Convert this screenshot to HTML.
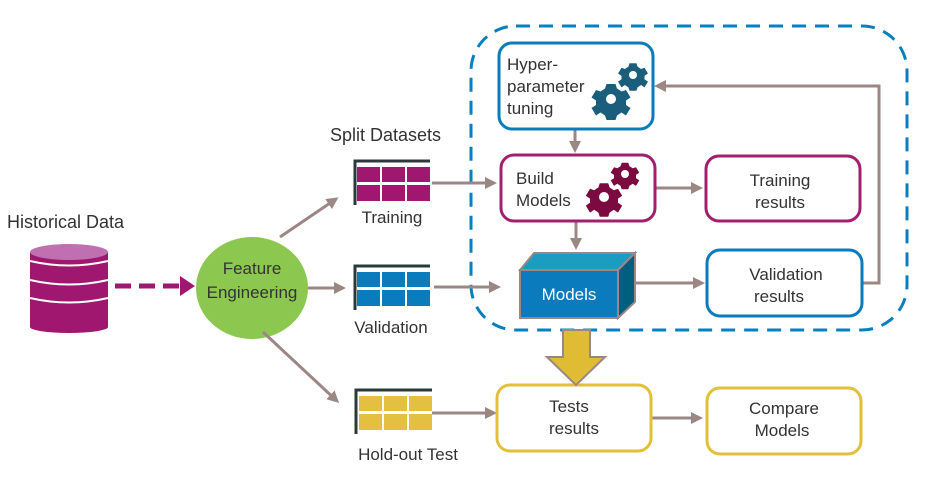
<!DOCTYPE html>
<html><head><meta charset="utf-8"><style>body{margin:0;background:#fff}svg{display:block}text{font-family:"Liberation Sans",Arial,sans-serif;fill:#333}</style></head><body>
<svg width="928" height="485" viewBox="0 0 928 485" xmlns="http://www.w3.org/2000/svg">
<defs>
<marker id="a" markerWidth="4" markerHeight="4" refX="3" refY="2" orient="auto" markerUnits="strokeWidth"><path d="M0,0 L4,2 L0,4 Z" fill="#9b8784"/></marker>
<marker id="p" markerWidth="3" markerHeight="4" refX="2" refY="2" orient="auto" markerUnits="strokeWidth"><path d="M0,0 L3,2 L0,4 Z" fill="#a0176f"/></marker>
<g id="gear"><path d="M-3,-10 L3,-10 L4,-7 L7,-5 L10,-6 L13,-1 L10,1 L10,4 L13,6 L10,11 L7,9 L4,11 L3,14 L-3,14 L-4,11 L-7,9 L-10,11 L-13,6 L-10,4 L-10,1 L-13,-1 L-10,-6 L-7,-5 L-4,-7 Z" transform="translate(0,-2)"/></g>
</defs>
<rect x="471" y="26" width="436" height="304" rx="45" fill="none" stroke="#0a7fc0" stroke-width="3" stroke-dasharray="14,9"/>
<text x="7" y="228" font-size="18">Historical Data</text>
<g fill="#a0176f">
<rect x="30" y="252" width="78" height="75" />
<ellipse cx="69" cy="327" rx="39" ry="6"/>
</g>
<ellipse cx="69" cy="252" rx="39" ry="8" fill="#c070b0"/>
<g stroke="#fff" stroke-width="2" fill="none">
<path d="M30,261 Q69,270 108,261"/><path d="M30,280 Q69,289 108,280"/><path d="M30,298 Q69,307 108,298"/>
</g>
<line x1="115" y1="286" x2="190" y2="286" stroke="#a0176f" stroke-width="5" stroke-dasharray="16,8" marker-end="url(#p)"/>
<ellipse cx="252" cy="288" rx="56" ry="51" fill="#8cc850"/>
<text x="252" y="274" font-size="17" text-anchor="middle">Feature</text>
<text x="252" y="298" font-size="17" text-anchor="middle">Engineering</text>
<g stroke="#9b8784" stroke-width="3" fill="none" marker-end="url(#a)">
<line x1="280" y1="237" x2="336" y2="199"/>
<line x1="308" y1="288" x2="343" y2="288"/>
<line x1="263" y1="332" x2="337" y2="401"/>
<line x1="432" y1="183" x2="494" y2="183"/>
<line x1="434" y1="287" x2="498" y2="287"/>
<line x1="432" y1="413" x2="494" y2="413"/>
<line x1="575" y1="129" x2="575" y2="150"/>
<line x1="576" y1="221" x2="576" y2="247"/>
<line x1="655" y1="188" x2="700" y2="188"/>
<line x1="636" y1="283" x2="702" y2="283"/>
<line x1="651" y1="418" x2="700" y2="418"/>
<polyline points="855,283 879,283 879,86 657,86"/>
</g>
<text x="330" y="141" font-size="18">Split Datasets</text>
<g>
<path d="M355,205 V161 H430" stroke="#2a3a3a" stroke-width="3" fill="none"/>
<g fill="#a0176f"><rect x="357" y="167" width="23" height="15"/><rect x="382" y="167" width="23" height="15"/><rect x="407" y="167" width="23" height="15"/><rect x="357" y="185" width="23" height="16"/><rect x="382" y="185" width="23" height="16"/><rect x="407" y="185" width="23" height="16"/></g>
</g>
<text x="392" y="223" font-size="17" text-anchor="middle">Training</text>
<g>
<path d="M355,310 V266 H430" stroke="#2a3a3a" stroke-width="3" fill="none"/>
<g fill="#0a7bbd"><rect x="357" y="272" width="23" height="15"/><rect x="382" y="272" width="23" height="15"/><rect x="407" y="272" width="23" height="15"/><rect x="357" y="290" width="23" height="16"/><rect x="382" y="290" width="23" height="16"/><rect x="407" y="290" width="23" height="16"/></g>
</g>
<text x="391" y="333" font-size="17" text-anchor="middle">Validation</text>
<g>
<path d="M356,434 V390 H432" stroke="#2a3a3a" stroke-width="3" fill="none"/>
<g fill="#e3c040"><rect x="359" y="396" width="23" height="15"/><rect x="384" y="396" width="23" height="15"/><rect x="409" y="396" width="23" height="15"/><rect x="359" y="414" width="23" height="16"/><rect x="384" y="414" width="23" height="16"/><rect x="409" y="414" width="23" height="16"/></g>
</g>
<text x="408" y="460" font-size="17" text-anchor="middle">Hold-out Test</text>
<rect x="499" y="43" width="154" height="86" rx="13" fill="#fff" stroke="#0a7bbd" stroke-width="3"/>
<text x="507" y="70" font-size="17">Hyper-</text>
<text x="507" y="92" font-size="17">parameter</text>
<text x="507" y="114" font-size="17">tuning</text>
<g fill="#1b5e7c"><use href="#gear" transform="translate(633,77) scale(1.15)"/><use href="#gear" transform="translate(611,102) scale(1.5)"/></g>
<circle cx="633" cy="75" r="4" fill="#fff"/><circle cx="611" cy="99" r="5" fill="#fff"/>
<rect x="501" y="155" width="154" height="66" rx="13" fill="#fff" stroke="#a0206f" stroke-width="3"/>
<text x="516" y="184" font-size="17">Build</text>
<text x="516" y="206" font-size="17">Models</text>
<g fill="#7a0a40"><use href="#gear" transform="translate(625,176) scale(1.1)"/><use href="#gear" transform="translate(604,200) scale(1.4)"/></g>
<circle cx="625" cy="174" r="4" fill="#fff"/><circle cx="604" cy="197" r="5" fill="#fff"/>
<rect x="706" y="156" width="154" height="65" rx="13" fill="#fff" stroke="#a0206f" stroke-width="3"/>
<text x="780" y="186" font-size="17" text-anchor="middle">Training</text>
<text x="780" y="208" font-size="17" text-anchor="middle">results</text>
<polygon points="520,270 534,253 635,253 618,270" fill="#1b9cc0" stroke="#9b8784" stroke-width="2"/>
<polygon points="618,270 635,253 635,302 618,318" fill="#005f7f" stroke="#9b8784" stroke-width="2"/>
<rect x="520" y="270" width="98" height="48" fill="#0a7bbd" stroke="#9b8784" stroke-width="2"/>
<text x="569" y="300" font-size="17" text-anchor="middle" style="fill:#fff">Models</text>
<rect x="707" y="250" width="155" height="66" rx="13" fill="#fff" stroke="#0a7bbd" stroke-width="3"/>
<text x="786" y="280" font-size="17" text-anchor="middle">Validation</text>
<text x="779" y="302" font-size="17" text-anchor="middle">results</text>
<rect x="497" y="385" width="154" height="66" rx="13" fill="#fff" stroke="#e2c03a" stroke-width="3"/>
<text x="569" y="412" font-size="17" text-anchor="middle">Tests</text>
<text x="574" y="434" font-size="17" text-anchor="middle">results</text>
<polygon points="563,330 590,330 590,357 605,357 576,385 547,357 563,357" fill="#e0bc35" stroke="#9b8784" stroke-width="2"/>
<rect x="707" y="388" width="154" height="66" rx="13" fill="#fff" stroke="#e2c03a" stroke-width="3"/>
<text x="784" y="414" font-size="17" text-anchor="middle">Compare</text>
<text x="782" y="436" font-size="17" text-anchor="middle">Models</text>
</svg>
</body></html>
